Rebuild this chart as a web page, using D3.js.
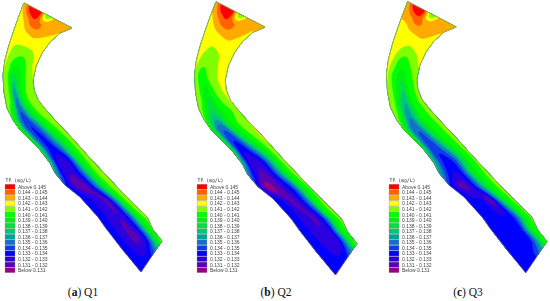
<!DOCTYPE html>
<html><head><meta charset="utf-8"><style>html,body{margin:0;padding:0;background:#fff}svg{display:block}</style>
<script src="https://d3js.org/d3.v7.min.js"></script></head><body><svg id="c" width="550" height="301"></svg>
<script>
const bankLeft=[[24,3],[19,16],[14,30],[9,45],[5,60],[3,75],[4,92],[7,108],[13,120],[20,130],[40,150],[50,163],[55,173],[65,185],[80,197],[98,217],[105,227],[122,249],[141,272]];
const bankRight=[[72,28],[60,33],[50,42],[42,53],[36,66],[33,80],[34,90],[38,100],[46,110],[54,119],[72,138],[88,156],[103,172],[118,188],[133,203],[147,217],[153,230],[158,236],[162,241]];
const q1Values=[
[142.9,146.0,146.0,141.0,143.5,143.4,143.0],
[142.5,143.4,144.6,144.2,143.5,143.3,143.0],
[142.2,142.5,142.8,143.1,143.0,142.8,142.6],
[142.3,141.95,141.8,141.8,141.95,142.2,142.4],
[142.2,141.3,140.5,140.4,141.0,141.8,142.3],
[141.9,140.8,138.5,139.5,140.6,141.5,142.0],
[141.8,140.8,136.5,139.0,140.7,141.5,142.0],
[141.5,140.0,135.5,138.0,140.5,141.5,142.0],
[141.0,136.5,134.5,137.5,140.0,141.5,142.0],
[140.5,135.5,134.0,136.0,139.5,141.0,141.9],
[139.0,135.0,133.5,135.5,138.5,140.5,141.7],
[138.0,133.3,132.6,133.6,138.0,140.5,141.6],
[137.0,132.9,132.2,133.8,137.5,140.8,141.8],
[134.0,132.0,131.0,133.2,137.0,140.5,141.6],
[134.0,133.0,132.6,131.8,135.5,140.0,141.8],
[133.5,133.0,132.3,132.2,135.0,139.8,141.3],
[133.5,133.0,132.2,131.8,133.2,137.5,141.0],
[133.5,133.1,132.2,132.0,133.2,137.5,141.0],
[133.5,133.4,133.3,133.9,135.5,138.0,141.5]];
const q2Values=[
[143.5,146.0,145.9,141.0,143.5,143.3,143.1],
[142.8,143.9,144.8,144.3,143.6,143.4,142.9],
[142.3,142.6,142.95,143.2,143.2,142.9,142.5],
[142.4,142.2,141.95,142.1,142.3,142.5,142.5],
[142.3,141.6,141.2,141.5,141.95,142.4,142.5],
[141.9,140.5,140.7,141.4,141.8,142.2,142.5],
[141.9,140.7,139.3,140.4,141.3,141.9,142.3],
[141.6,140.5,138.5,139.5,140.6,141.4,142.1],
[141.3,138.0,137.5,139.0,140.2,141.0,142.0],
[140.0,136.0,135.5,139.0,140.5,141.5,142.0],
[139.0,134.0,133.7,136.5,139.5,141.0,142.1],
[137.5,133.0,132.3,133.5,137.0,140.0,141.7],
[136.0,132.6,131.8,133.0,136.5,140.0,141.4],
[133.5,130.5,131.2,132.5,134.5,139.0,141.2],
[133.5,132.8,131.7,132.6,135.5,140.0,141.3],
[133.5,133.0,132.3,132.0,134.5,139.5,141.3],
[133.5,133.1,132.4,132.1,133.2,138.0,141.0],
[133.5,133.3,132.7,132.2,133.2,137.5,141.0],
[133.4,133.3,133.3,133.6,135.0,138.0,141.5]];
const q3Values=[
[143.3,145.8,145.6,141.0,143.3,143.2,143.05],
[143.1,143.6,144.4,143.9,143.4,143.3,143.05],
[142.6,142.6,142.8,143.0,143.1,142.9,142.6],
[142.5,142.3,142.0,141.8,142.1,142.3,142.4],
[142.4,141.8,140.8,140.5,141.0,141.7,142.1],
[142.2,141.0,140.0,139.4,140.2,140.9,141.6],
[142.0,141.0,139.5,138.0,139.8,140.7,141.6],
[141.8,140.8,138.0,137.0,139.8,140.8,141.6],
[141.5,139.5,136.2,137.5,140.0,140.8,141.6],
[141.0,136.5,135.3,137.8,140.0,140.8,141.5],
[139.0,135.0,134.5,136.8,139.5,140.6,141.5],
[137.5,134.5,133.6,134.5,137.5,140.0,141.2],
[137.0,134.0,132.9,134.3,138.5,140.4,141.3],
[134.0,132.0,131.8,134.0,137.5,140.3,141.3],
[133.8,133.0,133.0,131.6,136.0,139.8,141.2],
[134.0,133.3,133.1,133.2,134.5,139.0,141.2],
[134.0,133.6,133.4,133.3,134.0,138.5,141.0],
[134.0,133.8,133.5,133.4,133.9,137.5,141.0],
[133.8,133.6,133.6,134.0,135.5,138.0,141.2]];
const thresholds=[131,132,133,134,135,136,137,138,139,140,141,142,143,144,145];
const bandColors=["#94008c","#5c00b4","#2c00e0","#0000ff","#0a3ce8","#1470c8","#00a0a0","#00c878","#00e040","#00f010","#00ff00","#80ff00","#ffff00","#ffaa00","#ff6400","#ff0000"];
const legendLabels=["Above  0.145","0.144 - 0.145","0.143 - 0.144","0.142 - 0.143","0.141 - 0.142","0.140 - 0.141","0.139 - 0.140","0.138 - 0.139","0.137 - 0.138","0.136 - 0.137","0.135 - 0.136","0.134 - 0.135","0.133 - 0.134","0.132 - 0.133","0.131 - 0.132","Below  0.131"];
const captionLetters=["(a)","(b)","(c)"];
const captionNames=["Q1","Q2","Q3"];
const panelXRange=[[24,162],[216,357],[407.7,547]];
const panelYRange=[[3,272],[1.8,275],[1.7,272.7]];
const legendDx=[0,192,384],captionX=[83,276,468];

const svg=d3.select("#c");
const defs=svg.append("defs");
defs.append("filter").attr("id","soft").append("feGaussianBlur").attr("stdDeviation",0.35);
defs.append("filter").attr("id","softText").append("feGaussianBlur").attr("stdDeviation",0.25);
const nRows=bankLeft.length,nCols=7,up=4;
const lerp=(a,b,t)=>a+(b-a)*t;
const cr=(a,b,c,d,t)=>0.5*(2*b+(c-a)*t+(2*a-5*b+4*c-d)*t*t+(3*b-a-3*c+d)*t*t*t);
// render-only refinement of the read grid so that band edges are smooth
function refine(grid){
  const W=(nCols-1)*up+1,H=(nRows-1)*up+1,out=[];
  const at=(r,c)=>grid[Math.max(0,Math.min(nRows-1,r))][Math.max(0,Math.min(nCols-1,c))];
  for(let j=0;j<H;j++){
    const r=Math.min(nRows-2,Math.floor(j/up)),tr=j/up-r;
    for(let i=0;i<W;i++){
      const c=Math.min(nCols-2,Math.floor(i/up)),tc=i/up-c;
      const rowv=[-1,0,1,2].map(k=>cr(at(r+k,c-1),at(r+k,c),at(r+k,c+1),at(r+k,c+2),tc));
      out.push(cr(rowv[0],rowv[1],rowv[2],rowv[3],tr));
    }
  }
  return {W,H,out};
}
function toBank(g,W,H){
  const c=Math.max(0,Math.min(W-1,g[0]-0.5))/(W-1);
  const r=Math.max(0,Math.min(H-1,g[1]-0.5))/(H-1)*(nRows-1);
  const i=Math.min(nRows-2,Math.floor(r)),f=r-i;
  const lx=lerp(bankLeft[i][0],bankLeft[i+1][0],f),ly=lerp(bankLeft[i][1],bankLeft[i+1][1],f);
  const rx=lerp(bankRight[i][0],bankRight[i+1][0],f),ry=lerp(bankRight[i][1],bankRight[i+1][1],f);
  return [lerp(lx,rx,c),lerp(ly,ry,c)];
}
const outline=[...bankLeft,...bankRight.slice().reverse()];
[q1Values,q2Values,q3Values].forEach((grid,k)=>{
  const x=d3.scaleLinear().domain([24,162]).range(panelXRange[k]);
  const y=d3.scaleLinear().domain([3,272]).range(panelYRange[k]);
  const g=svg.append("g").attr("filter","url(#soft)");
  const line=d3.line().x(d=>x(d[0])).y(d=>y(d[1]));
  g.append("path").attr("d",line(outline)+"Z").attr("fill",bandColors[0]);
  const {W,H,out}=refine(grid);
  const cs=d3.contours().size([W,H]).thresholds(thresholds)(out);
  const path=d3.geoPath();
  cs.forEach((c,i)=>{
    const geom={type:"MultiPolygon",coordinates:c.coordinates.map(p=>p.map(ring=>ring.map(q=>{const b=toBank(q,W,H);return [x(b[0]),y(b[1])];})))};
    g.append("path").attr("d",path(geom)).attr("fill",bandColors[i+1]).attr("fill-rule","evenodd")
      .attr("stroke",bandColors[i+1]).attr("stroke-width",0.2);
  });
  g.append("path").attr("d",line(outline)+"Z").attr("fill","none").attr("stroke","#8a8a60").attr("stroke-width",0.6);

  const ly=d3.scaleBand().domain(d3.range(16)).range([184.2,273.2]);
  const lg=svg.append("g").attr("transform",`translate(${legendDx[k]},0)`).attr("filter","url(#softText)");
  lg.append("text").attr("x",5.5).attr("y",181.5).attr("font-family","DejaVu Sans Mono").attr("font-size",4.8).attr("fill","#333").text("TP (mg/L)");
  legendLabels.forEach((t,i)=>{
    lg.append("rect").attr("x",5).attr("y",ly(i)).attr("width",10).attr("height",ly.bandwidth()-0.5)
      .attr("fill",bandColors[15-i]).attr("stroke","#999").attr("stroke-width",0.3);
    lg.append("text").attr("x",18).attr("y",ly(i)+4.5).attr("font-family","Liberation Sans").attr("font-size",5).attr("fill","#444").text(t);
  });
  const cap=svg.append("text").attr("x",captionX[k]).attr("y",296).attr("text-anchor","middle")
    .attr("font-family","Liberation Serif").attr("font-size",11.5).attr("fill","#111");
  cap.append("tspan").text("(");
  cap.append("tspan").attr("font-weight","bold").text(captionLetters[k].slice(1,2));
  cap.append("tspan").text(") "+captionNames[k]);
});
</script></body></html>
